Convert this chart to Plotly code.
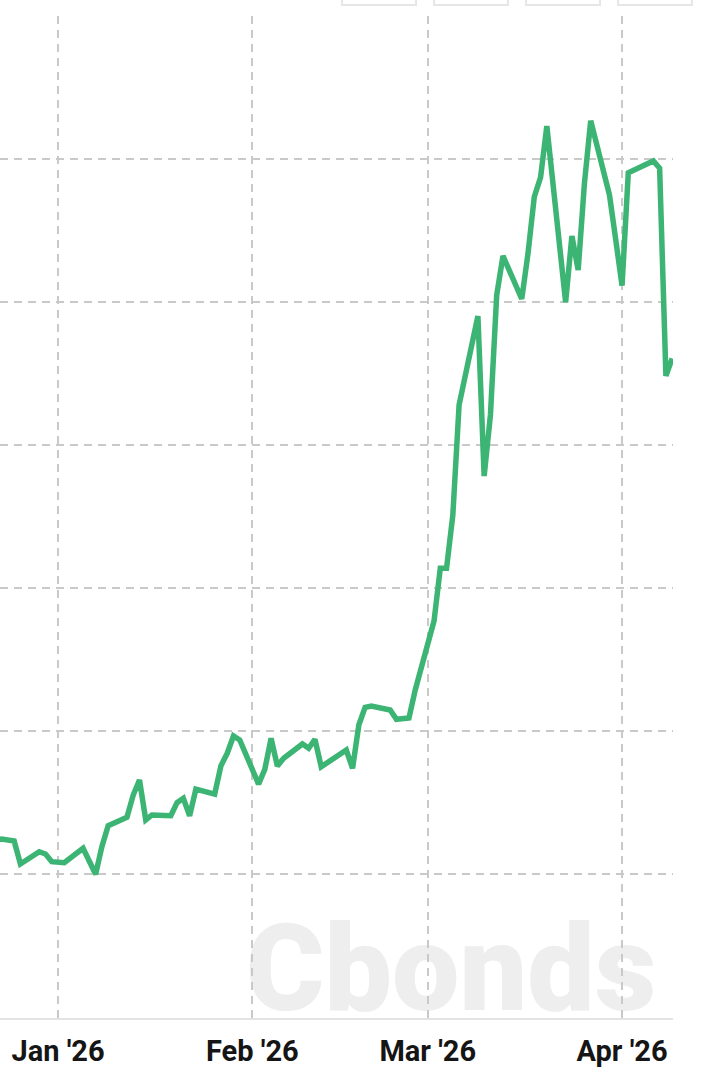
import plotly.graph_objects as go

# ---- data ----
dates = [
    "2025-12-22", "2025-12-23", "2025-12-25", "2025-12-26", "2025-12-29", "2025-12-30", "2025-12-31",
    "2026-01-02", "2026-01-05", "2026-01-06", "2026-01-07", "2026-01-08", "2026-01-09",
    "2026-01-12", "2026-01-13", "2026-01-14", "2026-01-15", "2026-01-16",
    "2026-01-19", "2026-01-20", "2026-01-21", "2026-01-22", "2026-01-23",
    "2026-01-26", "2026-01-27", "2026-01-28", "2026-01-29", "2026-01-30",
    "2026-02-02", "2026-02-03", "2026-02-04", "2026-02-05", "2026-02-06",
    "2026-02-09", "2026-02-10", "2026-02-11", "2026-02-12",
    "2026-02-16", "2026-02-17", "2026-02-18", "2026-02-19", "2026-02-20",
    "2026-02-23", "2026-02-24", "2026-02-26", "2026-02-27",
    "2026-03-02", "2026-03-03", "2026-03-04", "2026-03-05", "2026-03-06",
    "2026-03-09", "2026-03-10", "2026-03-11", "2026-03-12", "2026-03-13",
    "2026-03-16", "2026-03-17", "2026-03-18", "2026-03-19", "2026-03-20",
    "2026-03-23", "2026-03-24", "2026-03-25", "2026-03-26", "2026-03-27",
    "2026-03-30", "2026-03-31", "2026-04-01", "2026-04-02",
    "2026-04-06", "2026-04-07", "2026-04-08", "2026-04-09",
]
values = [
    14.24, 14.245, 14.231, 14.070, 14.156, 14.140, 14.086,
    14.079, 14.180, 14.086, 13.998, 14.191, 14.338,
    14.397, 14.552, 14.657, 14.378, 14.413,
    14.408, 14.499, 14.529, 14.406, 14.594,
    14.559, 14.757, 14.844, 14.965, 14.937,
    14.629, 14.732, 14.949, 14.755, 14.809,
    14.909, 14.879, 14.942, 14.750,
    14.867, 14.739, 15.042, 15.166, 15.175,
    15.147, 15.082, 15.091, 15.287,
    15.769, 16.138, 16.138, 16.510, 17.280,
    17.902, 16.783, 17.210, 18.049, 18.322,
    18.021, 18.341, 18.736, 18.872, 19.231,
    17.998, 18.462, 18.224, 18.830, 19.268,
    18.748, 18.434, 18.114, 18.904,
    18.986, 18.935, 17.483, 17.606,
]
y_grid = [14, 15, 16, 17, 18, 19, 20]
x_ticks = ["2026-01-01", "2026-02-01", "2026-03-01", "2026-04-01"]
x_tick_labels = ["Jan '26", "Feb '26", "Mar '26", "Apr '26"]
watermark = "Cbonds"

fig = go.Figure()
fig.add_trace(go.Scatter(
    x=dates, y=values, mode="lines",
    line=dict(color="#3cb474", width=5.5),
    hoverinfo="skip", showlegend=False,
))

grid_color = "#c9c9c9"
fig.update_layout(
    width=722, height=1090,
    margin=dict(l=0, r=49, t=16, b=72),
    paper_bgcolor="white", plot_bgcolor="white",
    showlegend=False,
    xaxis=dict(
        range=["2025-12-22 17:50", "2026-04-09 03:10"],
        tickvals=x_ticks, ticktext=x_tick_labels,
        showgrid=True, gridcolor=grid_color, gridwidth=2, griddash="8px,6px",
        showline=True, linecolor="#e3e3e3", linewidth=2,
        ticks="", zeroline=False, ticklabelstandoff=6,
        tickfont=dict(family="Roboto", size=29, color="#151515", weight="bold"),
    ),
    yaxis=dict(
        range=[12.993, 20.0],
        tickvals=y_grid, showticklabels=False,
        showgrid=True, gridcolor=grid_color, gridwidth=2, griddash="8px,6px",
        showline=False, zeroline=False, ticks="",
    ),
)

# watermark (below gridlines)
fig.add_shape(
    type="rect", xref="paper", yref="paper",
    x0=0.35, x1=0.99, y0=-0.005, y1=0.12,
    line=dict(width=0), fillcolor="rgba(0,0,0,0)", layer="below",
    label=dict(text=watermark, textposition="middle center",
               font=dict(family="Roboto", size=120, color="#eeeeee", weight=900)),
)

# range-selector button outlines cut off at the top
for x0, x1 in [(342, 416), (434, 508), (526, 600), (618, 692)]:
    fig.add_shape(
        type="rect", xref="paper", yref="paper",
        x0=x0 / 673, x1=x1 / 673, y0=(1018 - 5) / 1002, y1=(1018 + 30) / 1002,
        line=dict(color="#e6e6e6", width=2), fillcolor="rgba(0,0,0,0)",
    )

fig.write_html("out.html", config={"displayModeBar": False},
               post_script="document.body.style.margin='0';")
